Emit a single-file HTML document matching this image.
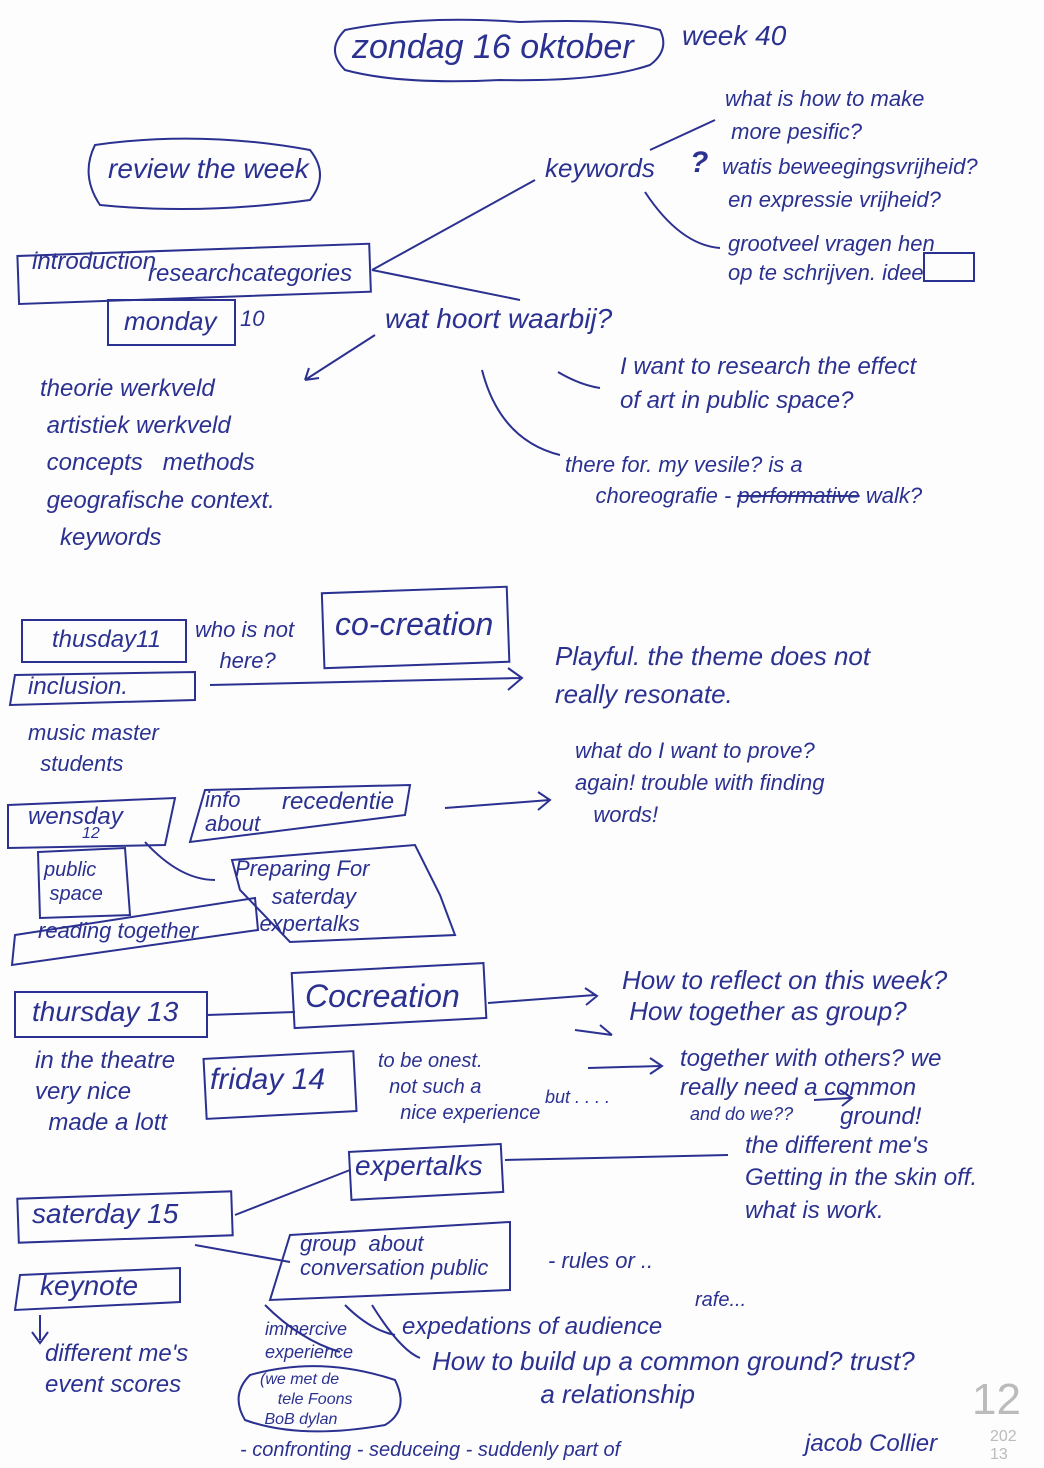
<!DOCTYPE html>
<html><head><meta charset="utf-8"><style>
html,body{margin:0;padding:0;background:#fdfdfd;}
#p{position:relative;width:1044px;height:1468px;overflow:hidden;background:#fdfdfd;font-family:"Liberation Sans",sans-serif;font-style:italic;color:#2b3190;}
.t{position:absolute;white-space:nowrap;line-height:1;}
svg{position:absolute;left:0;top:0;}
</style></head><body><div id="p">
<svg width="1044" height="1468" fill="none" stroke="#2b3190" stroke-width="2">
<path d="M345,30 Q420,15 520,22 Q620,18 660,30 Q670,50 650,65 Q600,82 500,80 Q400,85 345,70 Q325,50 345,30Z"/>
<path d="M95,145 Q200,130 310,150 Q330,175 310,200 Q200,215 100,205 Q80,175 95,145Z"/>
<rect x="18" y="250" width="352" height="48" transform="rotate(-2 190 270)"/>
<rect x="108" y="300" width="127" height="45"/>
<path d="M372,270 L535,180 M372,270 L520,300"/>
<path d="M375,335 L305,380 M305,380 l14,-2 M305,380 l4,-12"/>
<path d="M482,370 Q500,440 560,455 M558,372 Q580,385 600,388"/>
<path d="M650,150 L715,120 M645,192 Q680,245 720,248"/>
<rect x="924" y="253" width="50" height="28"/>
<rect x="22" y="620" width="164" height="42"/>
<path d="M15,675 L195,672 L195,700 L10,705Z"/>
<rect x="323" y="590" width="185" height="75" transform="rotate(-2 415 625)"/>
<path d="M210,685 L520,678 M508,668 L522,678 L508,690"/>
<path d="M8,805 L175,798 L165,845 L8,848Z"/>
<path d="M205,790 L410,785 L405,815 L190,842Z"/>
<path d="M445,808 L550,800 M538,792 L550,800 L538,810"/>
<path d="M38,852 L125,848 L130,915 L40,918Z"/>
<path d="M15,935 L255,898 L258,930 L12,965Z"/>
<path d="M232,860 L415,845 L440,895 L455,935 L290,942 L240,890Z"/>
<path d="M145,842 Q180,880 215,880"/>
<rect x="15" y="992" width="192" height="45"/>
<rect x="293" y="968" width="192" height="55" transform="rotate(-3 390 995)"/>
<path d="M207,1015 L295,1012 M488,1003 L595,995 M585,988 L597,996 L586,1005"/>
<path d="M575,1030 L612,1035 M600,1025 L612,1035"/>
<path d="M588,1068 L660,1066 M650,1058 L662,1066 L650,1074"/>
<path d="M814,1100 L850,1098 M840,1090 L852,1098 L842,1106"/>
<rect x="205" y="1055" width="150" height="60" transform="rotate(-3 280 1085)"/>
<rect x="350" y="1148" width="152" height="48" transform="rotate(-3 425 1170)"/>
<path d="M505,1160 L728,1155"/>
<rect x="18" y="1195" width="214" height="44" transform="rotate(-2 125 1217)"/>
<path d="M235,1215 L350,1170 M195,1245 L290,1262"/>
<path d="M290,1235 L510,1222 L510,1290 L270,1300Z"/>
<path d="M20,1275 L180,1268 L180,1302 L15,1310Z"/>
<path d="M40,1315 L40,1340 M32,1332 L40,1343 L48,1332"/>
<path d="M265,1305 Q300,1340 340,1352 M345,1305 Q370,1330 395,1335 M372,1305 Q400,1350 420,1358"/>
<path d="M250,1375 Q320,1355 395,1380 Q410,1410 385,1425 Q300,1440 245,1420 Q230,1395 250,1375Z"/>
</svg>
<div class="t" style="left:352px;top:30px;font-size:34px">zondag 16 oktober</div>
<div class="t" style="left:682px;top:22px;font-size:28px">week 40</div>
<div class="t" style="left:108px;top:155px;font-size:28px">review the week</div>
<div class="t" style="left:545px;top:155px;font-size:26px">keywords</div>
<div class="t" style="left:690px;top:148px;font-size:30px;font-weight:bold">?</div>
<div class="t" style="left:725px;top:82px;font-size:22px;line-height:1.5">what is how to make<br>&nbsp;more pesific?</div>
<div class="t" style="left:722px;top:150px;font-size:22px;line-height:1.5">watis beweegingsvrijheid?<br>&nbsp;en expressie vrijheid?</div>
<div class="t" style="left:728px;top:230px;font-size:22px;line-height:1.3">grootveel vragen hen<br>op te schrijven. idee</div>
<div class="t" style="left:32px;top:250px;font-size:24px">introduction</div>
<div class="t" style="left:148px;top:262px;font-size:24px">researchcategories</div>
<div class="t" style="left:124px;top:308px;font-size:26px">monday</div>
<div class="t" style="left:240px;top:308px;font-size:22px">10</div>
<div class="t" style="left:385px;top:305px;font-size:28px">wat hoort waarbij?</div>
<div class="t" style="left:40px;top:370px;font-size:24px;line-height:1.55">theorie werkveld<br>&nbsp;artistiek werkveld<br>&nbsp;concepts &nbsp;&nbsp;methods<br>&nbsp;geografische context.<br>&nbsp;&nbsp;&nbsp;keywords</div>
<div class="t" style="left:620px;top:350px;font-size:24px;line-height:1.4">I want to research the effect<br>of art in public space?</div>
<div class="t" style="left:565px;top:450px;font-size:22px;line-height:1.4">there for. my vesile? is a<br>&nbsp;&nbsp;&nbsp;&nbsp;&nbsp;choreografie - <s>performative</s> walk?</div>
<div class="t" style="left:52px;top:628px;font-size:24px">thusday11</div>
<div class="t" style="left:195px;top:615px;font-size:22px;line-height:1.4">who is not<br>&nbsp;&nbsp;&nbsp;&nbsp;here?</div>
<div class="t" style="left:335px;top:608px;font-size:32px">co-creation</div>
<div class="t" style="left:28px;top:675px;font-size:24px">inclusion.</div>
<div class="t" style="left:555px;top:638px;font-size:26px;line-height:1.45">Playful. the theme does not<br>really resonate.</div>
<div class="t" style="left:28px;top:718px;font-size:22px;line-height:1.4">music master<br>&nbsp;&nbsp;students</div>
<div class="t" style="left:575px;top:735px;font-size:22px;line-height:1.45">what do I want to prove?<br>again! trouble with finding<br>&nbsp;&nbsp;&nbsp;words!</div>
<div class="t" style="left:28px;top:805px;font-size:24px">wensday</div>
<div class="t" style="left:82px;top:826px;font-size:16px">12</div>
<div class="t" style="left:205px;top:788px;font-size:22px;line-height:1.1">info<br>about</div>
<div class="t" style="left:282px;top:790px;font-size:24px">recedentie</div>
<div class="t" style="left:44px;top:858px;font-size:20px;line-height:1.2">public<br>&nbsp;space</div>
<div class="t" style="left:38px;top:920px;font-size:22px">reading together</div>
<div class="t" style="left:235px;top:855px;font-size:22px;line-height:1.25">Preparing For<br>&nbsp;&nbsp;&nbsp;&nbsp;&nbsp;&nbsp;saterday<br>&nbsp;&nbsp;&nbsp;&nbsp;expertalks</div>
<div class="t" style="left:32px;top:998px;font-size:28px">thursday 13</div>
<div class="t" style="left:305px;top:980px;font-size:32px">Cocreation</div>
<div class="t" style="left:622px;top:965px;font-size:26px;line-height:1.2">How to reflect on this week?<br>&nbsp;How together as group?</div>
<div class="t" style="left:680px;top:1045px;font-size:24px;line-height:1.2">together with others? we<br>really need a common<br>&nbsp;&nbsp;&nbsp;&nbsp;&nbsp;&nbsp;&nbsp;&nbsp;&nbsp;&nbsp;&nbsp;&nbsp;&nbsp;&nbsp;&nbsp;&nbsp;&nbsp;&nbsp;&nbsp;&nbsp;&nbsp;&nbsp;&nbsp;&nbsp;ground!</div>
<div class="t" style="left:690px;top:1105px;font-size:18px">and do we??</div>
<div class="t" style="left:35px;top:1045px;font-size:24px;line-height:1.3">in the theatre<br>very nice<br>&nbsp;&nbsp;made a lott</div>
<div class="t" style="left:210px;top:1065px;font-size:30px">friday 14</div>
<div class="t" style="left:378px;top:1048px;font-size:20px;line-height:1.3">to be onest.<br>&nbsp;&nbsp;not such a<br>&nbsp;&nbsp;&nbsp;&nbsp;nice experience</div>
<div class="t" style="left:545px;top:1088px;font-size:18px">but . . . .</div>
<div class="t" style="left:355px;top:1152px;font-size:28px">expertalks</div>
<div class="t" style="left:745px;top:1130px;font-size:24px;line-height:1.35">the different me's<br>Getting in the skin off.<br>what is work.</div>
<div class="t" style="left:32px;top:1200px;font-size:28px">saterday 15</div>
<div class="t" style="left:300px;top:1232px;font-size:22px;line-height:1.1">group &nbsp;about<br>conversation public</div>
<div class="t" style="left:548px;top:1250px;font-size:22px">- rules or ..</div>
<div class="t" style="left:695px;top:1290px;font-size:20px">rafe...</div>
<div class="t" style="left:40px;top:1272px;font-size:28px">keynote</div>
<div class="t" style="left:45px;top:1338px;font-size:24px;line-height:1.3">different me's<br>event scores</div>
<div class="t" style="left:265px;top:1318px;font-size:18px;line-height:1.3">immercive<br>experience</div>
<div class="t" style="left:260px;top:1370px;font-size:16px;line-height:1.25">(we met de<br>&nbsp;&nbsp;&nbsp;&nbsp;tele Foons<br>&nbsp;BoB dylan</div>
<div class="t" style="left:402px;top:1315px;font-size:24px">expedations of audience</div>
<div class="t" style="left:432px;top:1345px;font-size:26px;line-height:1.25">How to build up a common ground? trust?<br>&nbsp;&nbsp;&nbsp;&nbsp;&nbsp;&nbsp;&nbsp;&nbsp;&nbsp;&nbsp;&nbsp;&nbsp;&nbsp;&nbsp;&nbsp;a relationship</div>
<div class="t" style="left:240px;top:1440px;font-size:20px">- confronting - seduceing - suddenly part of</div>
<div class="t" style="left:805px;top:1432px;font-size:24px">jacob Collier</div>
<div class="t" style="left:972px;top:1378px;font-size:44px;color:#bbb;font-style:normal">12</div>
<div class="t" style="left:990px;top:1428px;font-size:16px;color:#bbb;font-style:normal;line-height:1.1">202<br>13</div>
</div></body></html>
